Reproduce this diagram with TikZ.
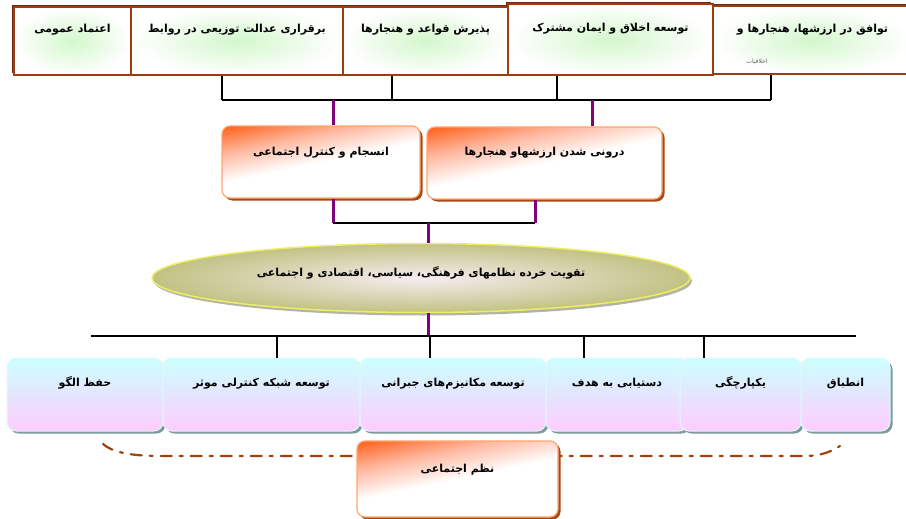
\documentclass[tikz,border=0pt]{standalone}
\usepackage{fontspec}
\usetikzlibrary{shapes.geometric,shadows}
\newfontfamily\farsi[Script=Arabic]{DejaVu Sans}
\TeXXeTstate=1

\definecolor{darkbrown}{HTML}{6E2A0C}
\definecolor{boxbrown}{HTML}{9C3D14}
\definecolor{glowgreen}{HTML}{D3F7CC}
\definecolor{vinecol}{HTML}{800080}
\definecolor{orangetop}{HTML}{FF6A28}
\definecolor{orangemid}{HTML}{FFB8A0}
\definecolor{orangeedge}{HTML}{FFA670}
\definecolor{rustshadow}{HTML}{A84A10}
\definecolor{olive}{HTML}{C2C284}
\definecolor{ovalcore}{HTML}{F7ECF0}
\definecolor{ovaledge}{HTML}{EEEE66}
\definecolor{ovalshadow}{HTML}{B4B4A4}
\definecolor{cyantop}{HTML}{CCFFFF}
\definecolor{pinkbot}{HTML}{FFCCFF}
\definecolor{tealshadow}{HTML}{7C9B9B}
\definecolor{tealedge}{HTML}{DDFBFB}
\definecolor{dashbrown}{HTML}{A3410D}

\pgfdeclareverticalshading{orangefade}{100bp}{color(0bp)=(white); color(50bp)=(white); color(65bp)=(orangemid); color(78bp)=(orangetop); color(100bp)=(orangetop)}

\begin{document}
\begin{tikzpicture}[x=1pt,y=-1pt,
    every node/.style={font=\farsi\bfseries\fontsize{11}{13}\selectfont, inner sep=0pt},
    topbox/.style={rectangle, draw=boxbrown, line width=2pt, inner color=glowgreen, outer color=white,
        drop shadow={shadow xshift=-2pt, shadow yshift=2pt, fill=darkbrown, opacity=1},
        minimum height=68pt, text height=9pt, text depth=25pt},
    midbox/.style={rectangle, rounded corners=8pt, draw=orangeedge, line width=1.2pt,
        shading=orangefade, shading angle=12,
        drop shadow={shadow xshift=2.5pt, shadow yshift=-2.5pt, fill=rustshadow, opacity=1},
        text height=9pt, text depth=23pt},
    lowbox/.style={rectangle, rounded corners=9pt, draw=tealedge, line width=1pt,
        top color=cyantop, bottom color=pinkbot,
        drop shadow={shadow xshift=2.5pt, shadow yshift=-2.5pt, fill=tealshadow, opacity=1},
        minimum height=73pt, text height=9pt, text depth=25pt},
    wire/.style={line width=1.3pt, black},
    vine/.style={line width=3pt, vinecol},
    dashline/.style={line width=2.2pt, dashbrown, dash pattern=on 11pt off 8pt on 3pt off 8pt, line cap=round}]

    \useasboundingbox[fill=white](0,0)rectangle(906,519);

    \coordinate (busT) at (0,100);
    \coordinate (busM) at (0,223);
    \coordinate (busB) at (0,336);
    \coordinate (hookL) at (103,444);
    \coordinate (hookR) at (840,446);

    \node[topbox, minimum width=199pt] (tE) at (812.5,40.5) {\beginR توافق در ارزشها، هنجارها و\endR};
    \node[topbox, minimum width=205pt, minimum height=71pt] (tD) at (610.5,39.5) {\beginR توسعه اخلاق و ایمان مشترک\endR};
    \node[topbox, minimum width=165pt] (tC) at (425.5,41) {\beginR پذیرش قواعد و هنجارها\endR};
    \node[topbox, minimum width=212pt] (tB) at (237,41) {\beginR برقراری عدالت توزیعی در روابط\endR};
    \node[topbox, minimum width=117pt] (tA) at (72.5,41) {\beginR اعتماد عمومی\endR};
    \node[font=\farsi\fontsize{6}{7}\selectfont, text=black!60] (tEsub) at (757,62) {\beginR اخلاقیات\endR};

    \node[midbox, minimum width=198pt, minimum height=72pt] (mA) at (321,162) {\beginR انسجام و کنترل اجتماعی\endR};
    \node[midbox, minimum width=235pt, minimum height=72pt] (mB) at (544.5,163) {\beginR درونی شدن ارزشهاو هنجارها\endR};

    \node[ellipse, draw=ovaledge, line width=1.5pt, inner color=ovalcore, outer color=olive,
        drop shadow={shadow xshift=2pt, shadow yshift=-3pt, fill=ovalshadow, opacity=1},
        minimum width=538pt, minimum height=69pt, text height=9pt, text depth=13pt] (ell) at (421,278)
        {\beginR تقویت خرده نظامهای فرهنگی، سیاسی، اقتصادی و اجتماعی\endR};

    \draw[dashline] (hookL) .. controls (112,452) and (130,456) .. (160,456) -- (805,456) .. controls (822,456) and (832,451) .. (hookR);

    \node[lowbox, minimum width=156pt] (bA) at (85,394.5) {\beginR حفظ الگو\endR};
    \node[lowbox, minimum width=197pt] (bB) at (261.5,394.5) {\beginR توسعه شبکه کنترلی موثر\endR};
    \node[lowbox, minimum width=186pt] (bC) at (453,394.5) {\beginR توسعه مکانیزم‌های جبرانی\endR};
    \node[lowbox, minimum width=142pt] (bD) at (617,394.5) {\beginR دستیابی به هدف\endR};
    \node[lowbox, minimum width=121pt] (bE) at (740.5,394.5) {\beginR یکپارچگی\endR};
    \node[lowbox, minimum width=89pt] (bF) at (845.5,394.5) {\beginR انطباق\endR};

    \node[midbox, minimum width=201pt, minimum height=76pt] (nA) at (457.5,479) {\beginR نظم اجتماعی\endR};

    \draw[wire] (tB.south -| 222,0) -- (busT -| 222,0);
    \draw[wire] (tC.south -| 392,0) -- (busT -| 392,0);
    \draw[wire] (tD.south -| 557,0) -- (busT -| 557,0);
    \draw[wire] (tE.south -| 771,0) -- (busT -| 771,0);
    \draw[wire] (busT -| 222,0) -- (busT -| 771,0);
    \draw[vine] (busT -| 333,0) -- (mA.north -| 333,0);
    \draw[vine] (busT -| 592,0) -- (mB.north -| 592,0);

    \draw[vine] (mA.south -| 333,0) -- (busM -| 333,0);
    \draw[vine] (mB.south -| 535,0) -- (busM -| 535,0);
    \draw[wire] (busM -| 333,0) -- (busM -| 535,0);
    \draw[vine] (busM -| 428,0) -- (ell.north -| 428,0);

    \draw[vine] (ell.south -| 428,0) -- (busB -| 428,0);
    \draw[wire] (busB -| 91,0) -- (busB -| 856,0);
    \draw[wire] (busB -| 277,0) -- (bB.north -| 277,0);
    \draw[wire] (busB -| 430,0) -- (bC.north -| 430,0);
    \draw[wire] (busB -| 584,0) -- (bD.north -| 584,0);
    \draw[wire] (busB -| 704,0) -- (bE.north -| 704,0);
\end{tikzpicture}
\end{document}
